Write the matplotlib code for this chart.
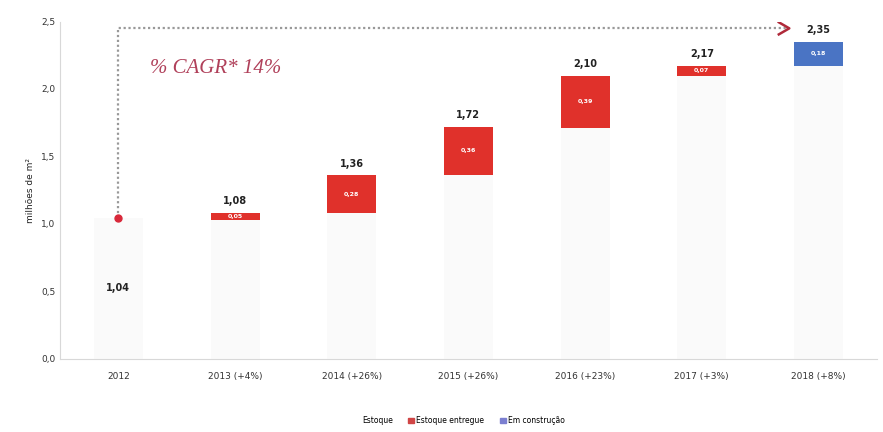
import matplotlib.pyplot as plt
from matplotlib.patches import Patch

categories = ['2012', '2013 (+4%)', '2014 (+26%)', '2015 (+26%)',
              '2016 (+23%)', '2017 (+3%)', '2018 (+8%)']
totals = [1.04, 1.08, 1.36, 1.72, 2.10, 2.17, 2.35]
increments = [None, 0.05, 0.28, 0.36, 0.39, 0.07, 0.18]
inc_type = [None, 'entregue', 'entregue', 'entregue', 'entregue', 'entregue', 'construcao']
yticks = [0.0, 0.5, 1.0, 1.5, 2.0, 2.5]

red = '#e0312b'
blue = '#4a74c4'
base_color = '#fafafa'


def fmt(v):
    return f'{v:.2f}'.replace('.', ',')


fig = plt.figure(figsize=(8.83, 4.32), dpi=100)
ax = fig.add_axes([0.068, 0.17, 0.925, 0.78])

x = list(range(len(categories)))
w = 0.42

for i in x:
    if increments[i] is None:
        base = totals[i]
        ax.bar(i, base, width=w, color=base_color, zorder=1)
        ax.text(i, base / 2, fmt(totals[i]), ha='center', va='center',
                fontsize=7, fontweight='bold', color='#222222')
        continue
    bottom = totals[i] - increments[i]
    ax.bar(i, bottom, width=w, color=base_color, zorder=1)
    c = blue if inc_type[i] == 'construcao' else red
    ax.bar(i, increments[i], bottom=bottom, width=w, color=c, zorder=2)
    ax.text(i, bottom + increments[i] / 2, fmt(increments[i]), ha='center',
            va='center', fontsize=4.5, fontweight='bold', color='white', zorder=3)
    ax.text(i, totals[i] + 0.05, fmt(totals[i]), ha='center', va='bottom',
            fontsize=7, fontweight='bold', color='#222222')

# CAGR arrow
top = 2.45
ax.plot([0, 0, 5.72], [totals[0], top, top], linestyle=(0, (1, 1.2)),
        color='#999999', lw=1.6, zorder=4)
ax.plot(0, totals[0], 'o', color='#d8283a', ms=5, zorder=5)
ax.plot([5.66, 5.75, 5.66], [top + 0.045, top, top - 0.045], color='#b02a3a',
        lw=1.8, zorder=5)
ax.text(0.27, 2.15, '% CAGR* 14%', fontsize=15, style='italic',
        family='Liberation Serif', color='#b0405a', va='center')

ax.set_xlim(-0.5, 6.5)
ax.set_ylim(0, 2.5)
ax.set_yticks(yticks)
ax.set_yticklabels([f'{t:.1f}'.replace('.', ',') for t in yticks])
ax.set_xticks(x)
ax.set_xticklabels(categories)
ax.tick_params(length=0, labelsize=6.5, colors='#333333')
ax.tick_params(axis='x', pad=10)
ax.set_ylabel('milhões de m²', fontsize=6.5, color='#222222')
for s in ['top', 'right']:
    ax.spines[s].set_visible(False)
for s in ['left', 'bottom']:
    ax.spines[s].set_color('#d8d8d8')

handles = [Patch(color='white', label='Estoque'),
           Patch(color='#d04545', label='Estoque entregue'),
           Patch(color='#7b7fd0', label='Em construção')]
fig.legend(handles=handles, loc='lower center', bbox_to_anchor=(0.52, 0.0),
           ncol=3, frameon=False, fontsize=5.5, handlelength=0.8,
           handleheight=0.8, columnspacing=2.0, handletextpad=0.3)

fig.savefig('out.png', dpi=100)
